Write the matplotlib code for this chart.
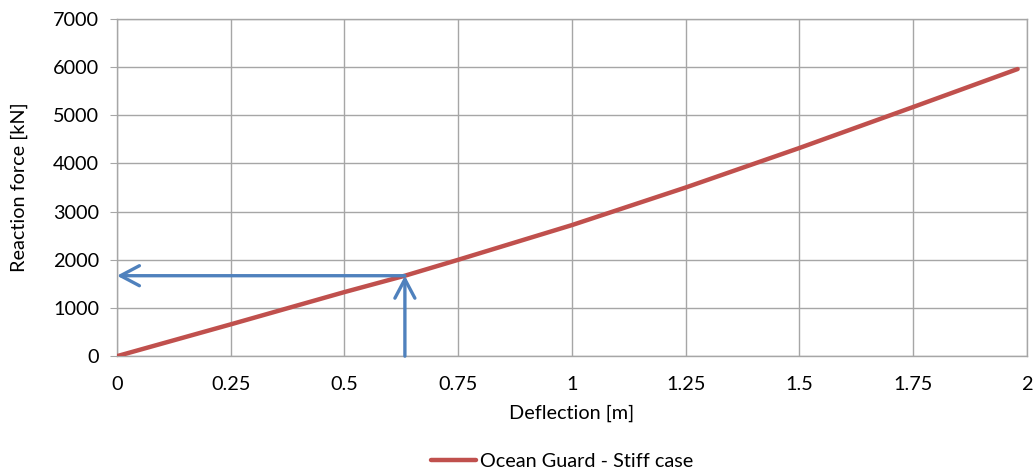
import matplotlib
matplotlib.use("Agg")
import matplotlib.pyplot as plt

# Reaction force vs deflection for the stiff fender case
deflection = [0.0, 0.25, 0.5, 0.633, 0.75, 1.0, 1.25, 1.5, 1.75, 1.98]
force = [0, 660, 1330, 1670, 2000, 2720, 3500, 4320, 5170, 5960]

# Design point marked with arrows
design_deflection = 0.633
design_force = 1670

x_ticks = [0, 0.25, 0.5, 0.75, 1, 1.25, 1.5, 1.75, 2]
x_tick_labels = ["0", "0.25", "0.5", "0.75", "1", "1.25", "1.5", "1.75", "2"]
y_ticks = [0, 1000, 2000, 3000, 4000, 5000, 6000, 7000]

plt.rcParams["font.family"] = ["Lato", "DejaVu Sans"]
fs = 14.3

fig = plt.figure(figsize=(10.35, 4.73), dpi=100)
ax = fig.add_axes([0.113, 0.247, 0.879, 0.713])

grid_color = "#A6A6A6"
ax.plot(deflection, force, color="#C0504D", lw=3.2, solid_capstyle="round",
        label="Ocean Guard - Stiff case", zorder=3)

arrow_color = "#4F81BD"
arrow_style = "->,head_length=0.68,head_width=0.36"
ax.annotate("", xy=(0, design_force), xytext=(design_deflection, design_force),
            arrowprops=dict(arrowstyle=arrow_style, color=arrow_color, lw=2.4,
                            mutation_scale=20, shrinkA=0, shrinkB=0), zorder=4)
ax.annotate("", xy=(design_deflection, design_force), xytext=(design_deflection, 0),
            arrowprops=dict(arrowstyle=arrow_style, color=arrow_color, lw=2.4,
                            mutation_scale=20, shrinkA=0, shrinkB=0), zorder=4)

ax.set_xlim(0, 2)
ax.set_ylim(0, 7000)
ax.set_xticks(x_ticks)
ax.set_xticklabels(x_tick_labels)
ax.set_yticks(y_ticks)
ax.grid(True, color=grid_color, lw=1.0)
ax.set_axisbelow(True)
for s in ax.spines.values():
    s.set_color(grid_color)
    s.set_linewidth(1.0)
ax.tick_params(axis="y", length=5, color=grid_color, labelsize=fs, pad=8)
ax.tick_params(axis="x", length=0, labelsize=fs, pad=14)
ax.set_xlabel("Deflection [m]", fontsize=fs, labelpad=9)
ax.set_ylabel("Reaction force [kN]", fontsize=fs, labelpad=18)

fig.legend(loc="center", bbox_to_anchor=(0.543, 0.025), frameon=False,
           fontsize=fs, handlelength=2.3, handletextpad=0.2)

fig.savefig("out.png", dpi=100)
